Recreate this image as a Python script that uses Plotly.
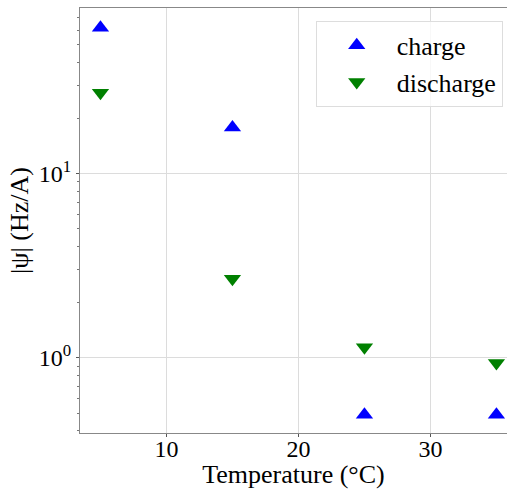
import plotly.graph_objects as go

temps = [5, 15, 25, 35]
charge = [62, 17.8, 0.49, 0.49]
discharge = [27.5, 2.68, 1.14, 0.935]

FONT = "Liberation Serif"

fig = go.Figure()
fig.add_trace(go.Scatter(x=temps, y=charge, mode="markers", name="charge",
                         marker=dict(symbol="triangle-up", size=15, color="#0000ff")))
fig.add_trace(go.Scatter(x=temps, y=discharge, mode="markers", name="discharge",
                         marker=dict(symbol="triangle-down", size=15, color="#008000")))

minor_vals = [m * 10 ** e for e in (-1, 0, 1) for m in range(2, 10)]

fig.update_layout(
    width=507, height=489,
    margin=dict(l=80, r=0, t=8, b=56),
    plot_bgcolor="white", paper_bgcolor="white",
    font=dict(family=FONT, size=24, color="black"),
    showlegend=True,
    legend=dict(x=0.99, y=0.97, xanchor="right", yanchor="top",
                bgcolor="rgba(255,255,255,0.8)", bordercolor="#dddddd", borderwidth=1,
                font=dict(family=FONT, size=26), itemwidth=70),
    xaxis=dict(range=[3.45, 35.8], tickvals=[10, 20, 30], ticks="outside", ticklen=3,
               tickcolor="#555", showline=True, linecolor="#888", linewidth=1, mirror=True,
               showgrid=True, gridcolor="#dcdcdc", gridwidth=1, zeroline=False,
               ticklabelstandoff=-9,
               title=dict(text="Temperature (°C)", font=dict(size=26), standoff=4)),
    yaxis=dict(type="log", range=[-0.409, 1.899], tickvals=[1, 10],
               ticktext=["10<sup>0</sup>", "10<sup>1</sup>"], ticks="outside", ticklen=3,
               tickcolor="#555", showline=True, linecolor="#888", linewidth=1,
               showgrid=True, gridcolor="#dcdcdc", gridwidth=1, zeroline=False,
               minor=dict(tickvals=minor_vals, ticks="outside", ticklen=2, tickcolor="#777", showgrid=False),
               title=dict(text="|ψ| (Hz/A)", font=dict(size=26), standoff=2)),
)

fig.write_html("out.html")
